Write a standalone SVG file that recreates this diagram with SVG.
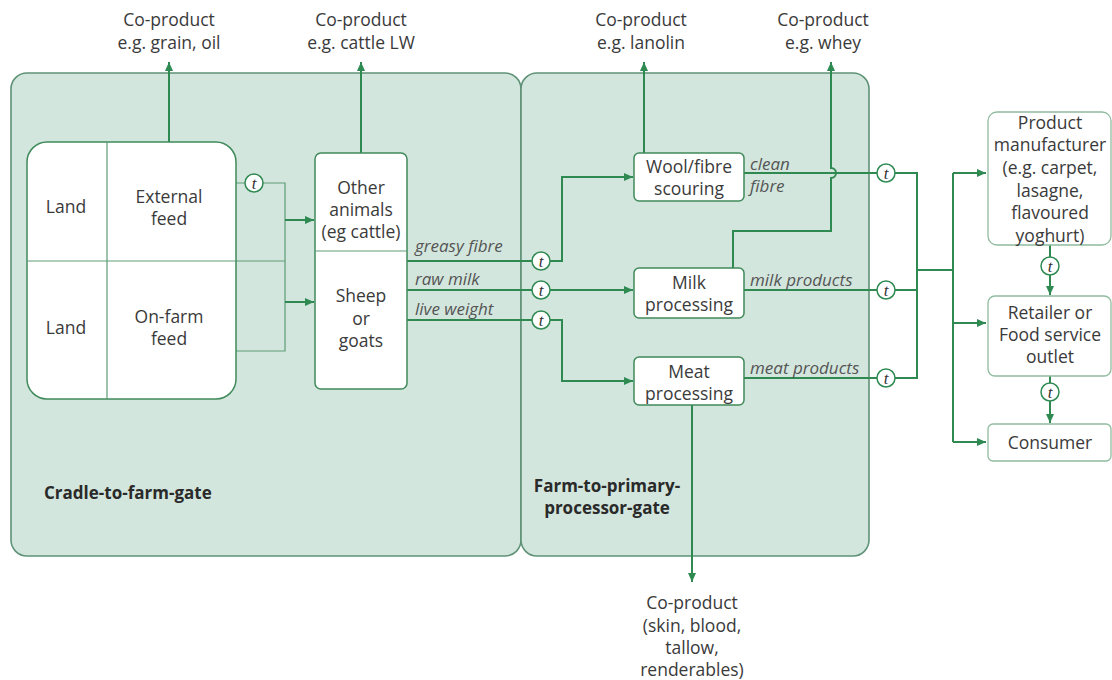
<svg xmlns="http://www.w3.org/2000/svg" width="1112" height="680" viewBox="0 0 1112 680">
  <style>
    text { font-family: "Open Sans", "Noto Sans", "DejaVu Sans", sans-serif; fill: #3a3a3a; }
    .lbl { font-size: 17.5px; text-anchor: middle; }
    .it { font-size: 17px; font-style: italic; fill: #555; }
    .bold { font-size: 17px; font-weight: bold; fill: #2a2a2a; }
    .panel { fill: #d3e6dd; stroke: #5f9277; stroke-width: 1.6; }
    .box { fill: #ffffff; stroke: #3f8a5a; stroke-width: 1.5; }
    .rbox { fill: #ffffff; stroke: #8fbc9f; stroke-width: 1.3; }
    .thin { fill: none; stroke: #5e9c76; stroke-width: 1.2; }
    .flow { fill: none; stroke: #2f8a52; stroke-width: 2; }
    .arr { fill: none; stroke: #2f8a52; stroke-width: 2; marker-end: url(#head); }
    .tc { fill: #ffffff; stroke: #2f8a52; stroke-width: 1.5; }
    .tt { font-family: "Liberation Serif", "DejaVu Serif", serif; font-style: italic; font-size: 17px; text-anchor: middle; fill: #333; }
  </style>
  <defs>
    <marker id="head" markerUnits="userSpaceOnUse" markerWidth="10" markerHeight="10" refX="9" refY="5" orient="auto">
      <path d="M0,1 L9,5 L0,9 z" fill="#2f8a52"/>
    </marker>
    <g id="tmark">
      <circle r="9" class="tc"/>
      <text class="tt" y="5.5">t</text>
    </g>
  </defs>

  <!-- stage panels -->
  <g id="panel-farm">
    <rect class="panel" x="11" y="73" width="510" height="483" rx="16"/>
    <text class="bold" x="44" y="499">Cradle-to-farm-gate</text>
  </g>
  <g id="panel-processor">
    <rect class="panel" x="521" y="73" width="348" height="483" rx="16"/>
    <text class="bold" x="607" y="492" text-anchor="middle">Farm-to-primary-</text>
    <text class="bold" x="607" y="514" text-anchor="middle">processor-gate</text>
  </g>

  <!-- connectors -->
  <g id="connectors">
    <!-- co-product outputs at the top -->
    <path class="arr" d="M169,142 V62"/>
    <path class="arr" d="M361,153 V62"/>
    <path class="arr" d="M644,153 V62"/>
    <path class="arr" d="M733,268 V231 H831 V178 a5,5 0 0 0 0,-10 V62"/>
    <!-- feed to animals -->
    <path class="thin" d="M236,183 H245 M263,183 H285 V351 H236"/>
    <path class="thin" d="M236,261 H285"/>
    <path class="arr" d="M285,220 H314"/>
    <path class="arr" d="M285,302 H314"/>
    <!-- animal outputs -->
    <path class="flow" d="M407,261 H532"/>
    <path class="arr" d="M550,261 H562 V177 H633"/>
    <path class="flow" d="M407,290 H532"/>
    <path class="arr" d="M550,290 H633"/>
    <path class="flow" d="M407,320 H532"/>
    <path class="arr" d="M550,320 H562 V381 H633"/>
    <!-- processed products -->
    <path class="flow" d="M744,173 H877"/>
    <path class="flow" d="M744,290 H877"/>
    <path class="flow" d="M744,378 H877"/>
    <path class="flow" d="M895,173 H917 V378 H895 M895,290 H917 M917,270 H953"/>
    <path class="flow" d="M953,173 V442"/>
    <path class="arr" d="M953,173 H986"/>
    <path class="arr" d="M953,323 H986"/>
    <path class="arr" d="M953,442 H986"/>
    <!-- meat co-products -->
    <path class="arr" d="M692,405 V582"/>
    <!-- down the supply chain -->
    <path class="flow" d="M1050,245 V257"/>
    <path class="arr" d="M1050,275 V295"/>
    <path class="flow" d="M1050,376 V383"/>
    <path class="arr" d="M1050,401 V423"/>
    <!-- transport markers -->
    <use href="#tmark" x="254" y="183"/>
    <use href="#tmark" x="541" y="261"/>
    <use href="#tmark" x="541" y="290"/>
    <use href="#tmark" x="541" y="320"/>
    <use href="#tmark" x="886" y="173"/>
    <use href="#tmark" x="886" y="290"/>
    <use href="#tmark" x="886" y="378"/>
    <use href="#tmark" x="1050" y="266"/>
    <use href="#tmark" x="1050" y="392"/>
  </g>

  <!-- co-product labels -->
  <g id="coproduct-grain">
    <text class="lbl" x="169" y="26">Co-product</text>
    <text class="lbl" x="169" y="49">e.g. grain, oil</text>
  </g>
  <g id="coproduct-cattle">
    <text class="lbl" x="361" y="26">Co-product</text>
    <text class="lbl" x="361" y="49">e.g. cattle LW</text>
  </g>
  <g id="coproduct-lanolin">
    <text class="lbl" x="641" y="26">Co-product</text>
    <text class="lbl" x="641" y="49">e.g. lanolin</text>
  </g>
  <g id="coproduct-whey">
    <text class="lbl" x="823" y="26">Co-product</text>
    <text class="lbl" x="823" y="49">e.g. whey</text>
  </g>

  <!-- land and feed -->
  <g id="land-feed">
    <rect class="box" x="27" y="142" width="209" height="257" rx="20"/>
    <path class="thin" d="M107,142 V399 M27,261 H236"/>
    <text class="lbl" x="66" y="213">Land</text>
    <text class="lbl" x="169" y="203">External</text>
    <text class="lbl" x="169" y="225">feed</text>
    <text class="lbl" x="66" y="334">Land</text>
    <text class="lbl" x="169" y="323">On-farm</text>
    <text class="lbl" x="169" y="345">feed</text>
  </g>

  <!-- animals -->
  <g id="animals">
    <rect class="box" x="315" y="153" width="92" height="236" rx="6"/>
    <path class="thin" d="M315,251 H407"/>
    <text class="lbl" x="361" y="194">Other</text>
    <text class="lbl" x="361" y="216">animals</text>
    <text class="lbl" x="361" y="238">(eg cattle)</text>
    <text class="lbl" x="361" y="302">Sheep</text>
    <text class="lbl" x="361" y="325">or</text>
    <text class="lbl" x="361" y="347">goats</text>
  </g>

  <!-- flow labels -->
  <g id="flow-labels">
    <text class="it" x="415" y="252">greasy fibre</text>
    <text class="it" x="415" y="285">raw milk</text>
    <text class="it" x="415" y="315">live weight</text>
    <text class="it" x="750" y="170">clean</text>
    <text class="it" x="750" y="192">fibre</text>
    <text class="it" x="750" y="286">milk products</text>
    <text class="it" x="750" y="374">meat products</text>
  </g>

  <!-- primary processing -->
  <g id="wool-scouring">
    <rect class="box" x="634" y="153" width="110" height="48" rx="5"/>
    <text class="lbl" x="689" y="173">Wool/fibre</text>
    <text class="lbl" x="689" y="195">scouring</text>
  </g>
  <g id="milk-processing">
    <rect class="box" x="634" y="268" width="110" height="50" rx="5"/>
    <text class="lbl" x="689" y="289">Milk</text>
    <text class="lbl" x="689" y="311">processing</text>
  </g>
  <g id="meat-processing">
    <rect class="box" x="634" y="357" width="110" height="48" rx="5"/>
    <text class="lbl" x="689" y="378">Meat</text>
    <text class="lbl" x="689" y="400">processing</text>
  </g>

  <g id="coproduct-meat">
    <text class="lbl" x="692" y="609">Co-product</text>
    <text class="lbl" x="692" y="632">(skin, blood,</text>
    <text class="lbl" x="692" y="654">tallow,</text>
    <text class="lbl" x="692" y="676">renderables)</text>
  </g>

  <!-- downstream -->
  <g id="manufacturer">
    <rect class="rbox" x="988" y="112" width="123" height="133" rx="9"/>
    <text class="lbl" x="1050" y="129">Product</text>
    <text class="lbl" x="1050" y="151">manufacturer</text>
    <text class="lbl" x="1050" y="174">(e.g. carpet,</text>
    <text class="lbl" x="1050" y="197">lasagne,</text>
    <text class="lbl" x="1050" y="219">flavoured</text>
    <text class="lbl" x="1050" y="242">yoghurt)</text>
  </g>
  <g id="retailer">
    <rect class="rbox" x="988" y="296" width="123" height="80" rx="7"/>
    <text class="lbl" x="1050" y="319">Retailer or</text>
    <text class="lbl" x="1050" y="341">Food service</text>
    <text class="lbl" x="1050" y="363">outlet</text>
  </g>
  <g id="consumer">
    <rect class="rbox" x="988" y="424" width="123" height="37" rx="5"/>
    <text class="lbl" x="1050" y="449">Consumer</text>
  </g>
</svg>
